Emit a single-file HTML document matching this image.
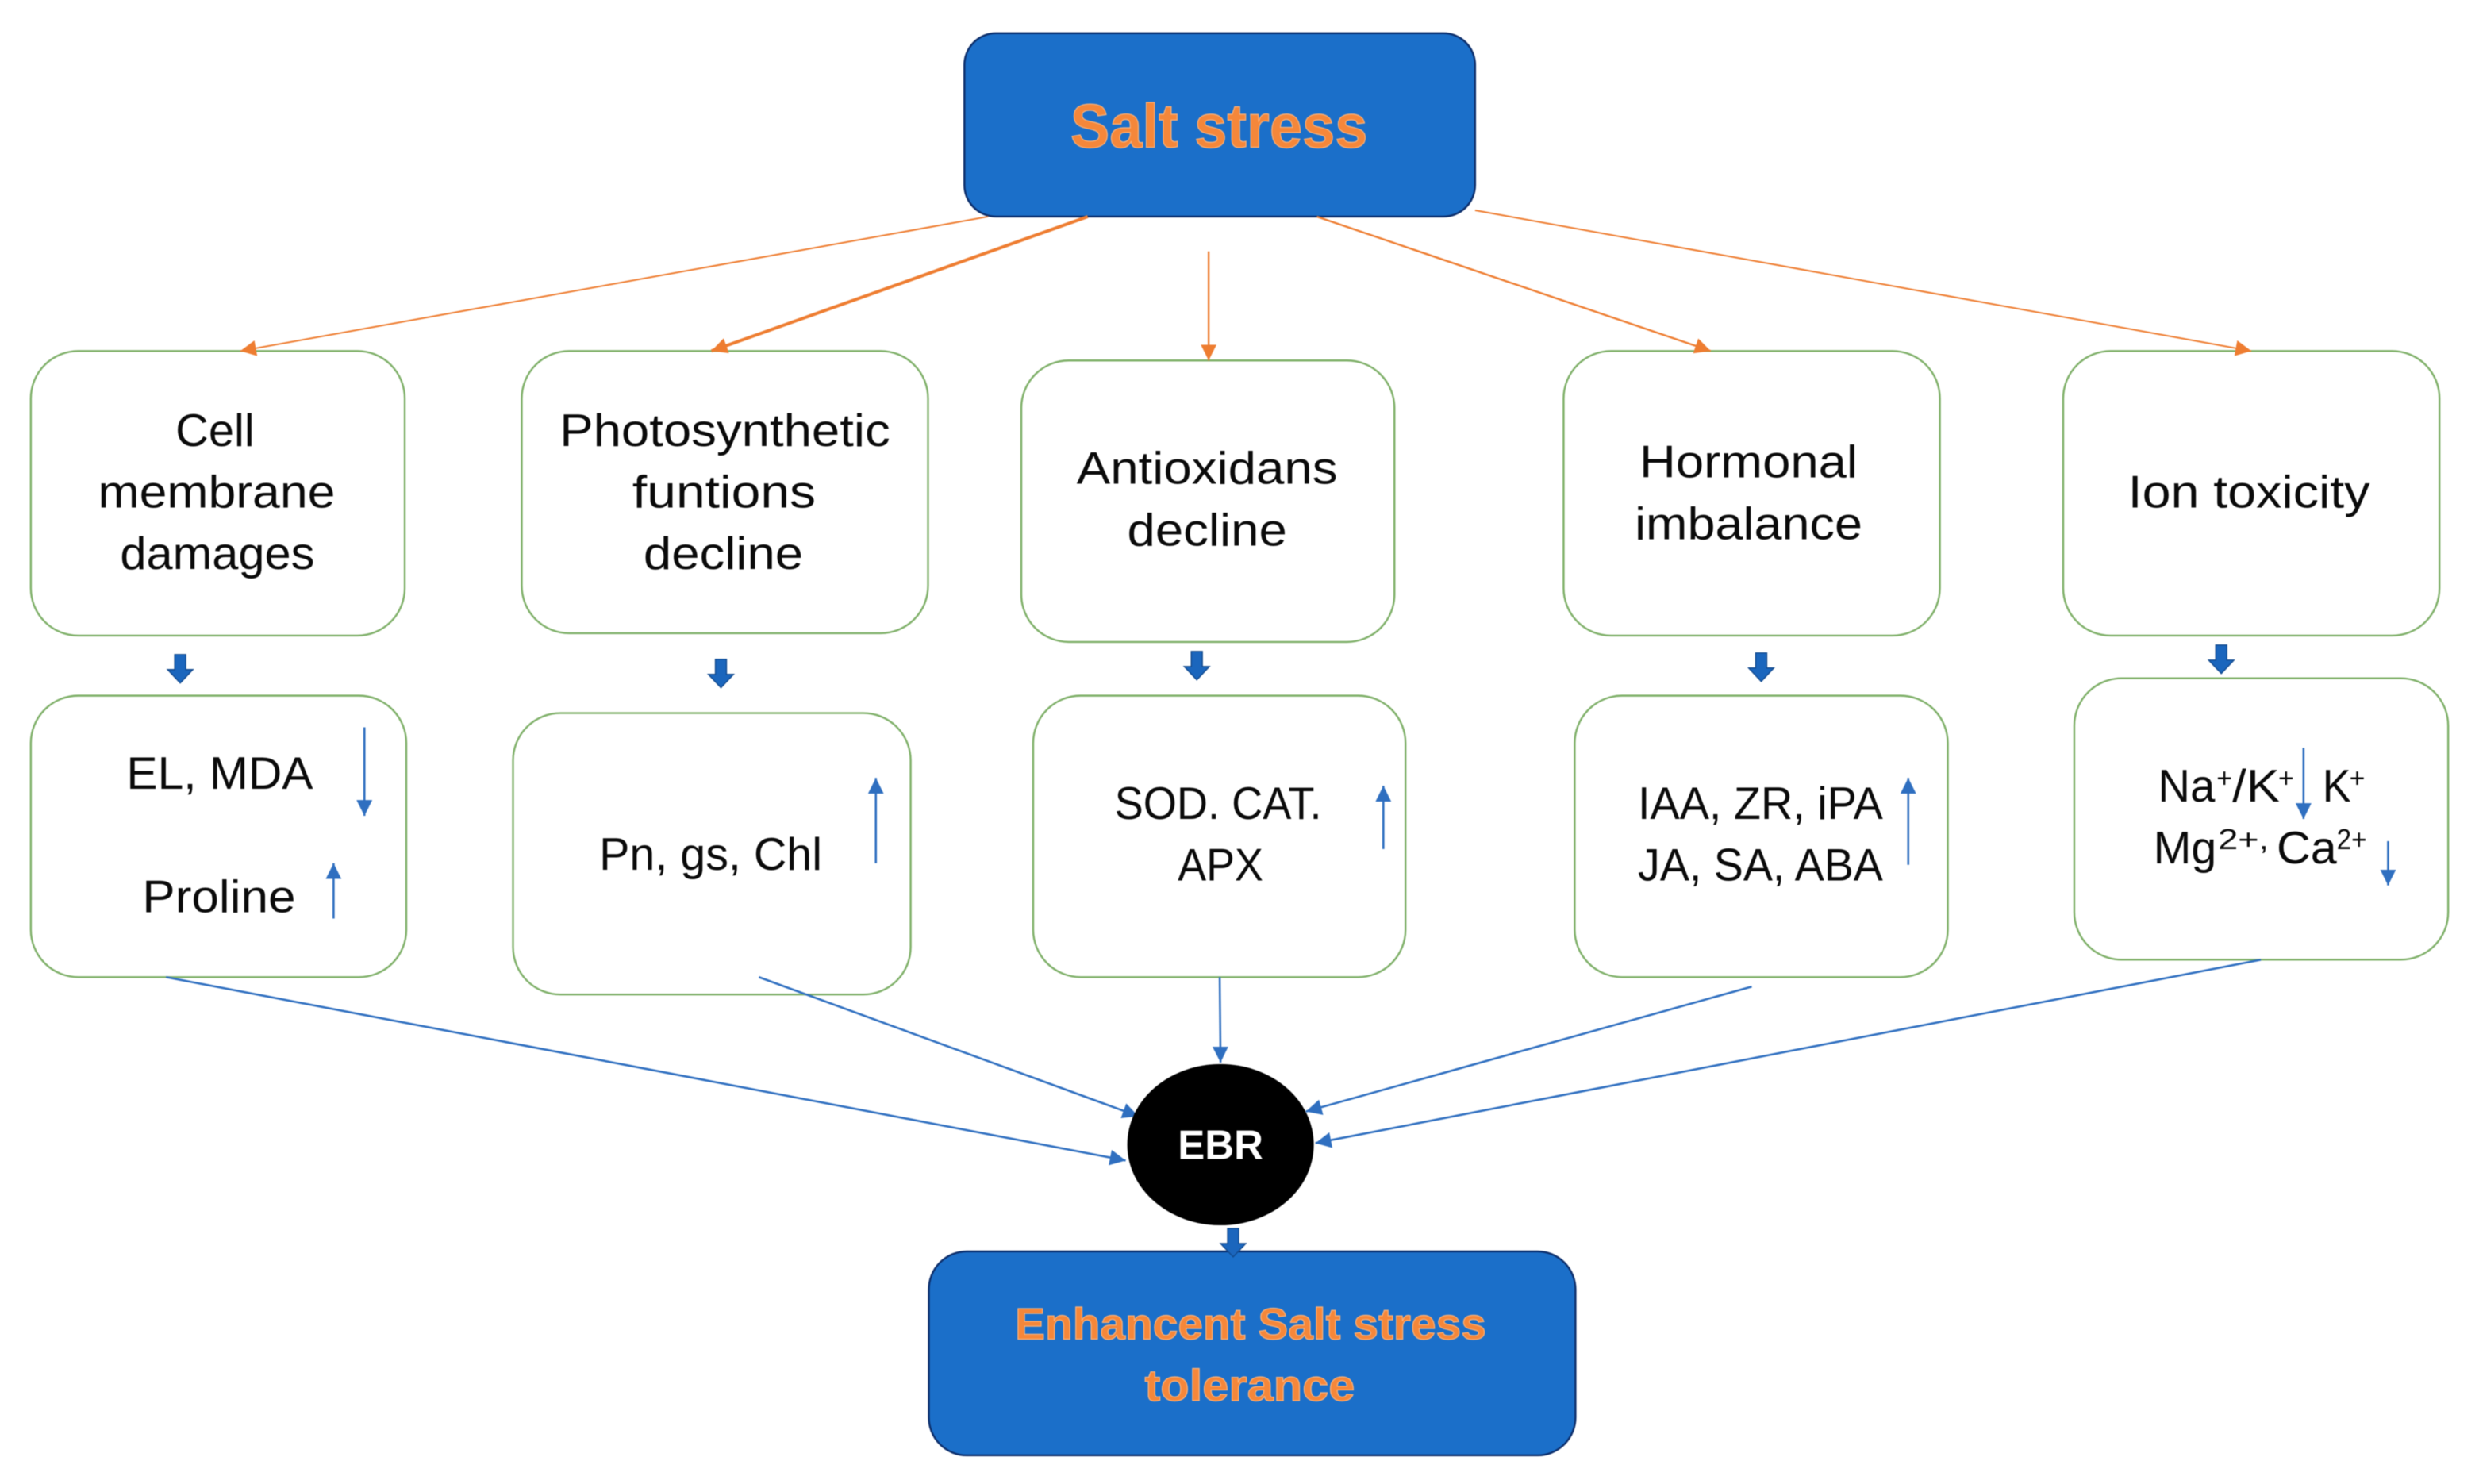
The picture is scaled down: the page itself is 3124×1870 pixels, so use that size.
<!DOCTYPE html>
<html><head><meta charset="utf-8"><title>Salt stress diagram</title>
<style>html,body{margin:0;padding:0;background:#fff}svg{display:block;filter:blur(.6px)}
text{font-family:"Liberation Sans",sans-serif;fill:#0a0a0a}
.t{font-size:29px}
.b{font-weight:bold;fill:#f5873a;stroke:#fbb27a;stroke-width:.6px}
</style></head><body>
<svg xmlns="http://www.w3.org/2000/svg" width="3124" height="1870" viewBox="0 0 1568 938.6" preserveAspectRatio="none">
<defs>
<marker id="o2" markerWidth="10" markerHeight="10" refX="10" refY="5" orient="auto" markerUnits="userSpaceOnUse" viewBox="0 0 10 10"><path d="M0 0L10 5L0 10Z" fill="#ee7d31"/></marker>
<marker id="u" markerWidth="10" markerHeight="10" refX="10" refY="5" orient="auto" markerUnits="userSpaceOnUse" viewBox="0 0 10 10"><path d="M0 0L10 5L0 10Z" fill="#2f6fc0"/></marker>
<path id="ba" d="M-3.5 0H3.5V9.5H8L0 18L-8 9.5H-3.5Z" fill="#1b66bd" stroke="#124a8f" stroke-width=".7"/>
</defs>
<rect width="1568" height="938.6" fill="#fff"/>
<g fill="none" stroke="#7fb069" stroke-width="1.2">
<rect x="19.5" y="222" width="236.500" height="180" rx="30"/>
<rect x="330" y="222" width="257" height="178.500" rx="30"/>
<rect x="646" y="228" width="236" height="178" rx="30"/>
<rect x="989" y="222" width="238" height="180" rx="30"/>
<rect x="1305" y="222" width="238" height="180" rx="30"/>
<rect x="19.500" y="440" width="237.500" height="178" rx="30"/>
<rect x="324.500" y="451" width="251.500" height="178" rx="30"/>
<rect x="653.500" y="440" width="235.500" height="178" rx="30"/>
<rect x="996" y="440" width="236" height="178" rx="30"/>
<rect x="1312" y="429" width="236.500" height="178" rx="30"/>
</g>
<rect x="610" y="21" width="323" height="116" rx="20" fill="#1b6fc9" stroke="#0d2f6c" stroke-width="1.200"/>
<rect x="587.500" y="791.500" width="409" height="129" rx="24" fill="#1b6fc9" stroke="#0d2f6c" stroke-width="1.200"/>
<g stroke="#ee7d31" fill="none">
<line x1="625" y1="137" x2="152" y2="222" stroke-width="1" marker-end="url(#o2)"/>
<line x1="688" y1="137" x2="450" y2="222" stroke-width="2" marker-end="url(#o2)"/>
<line x1="764.500" y1="159" x2="764.500" y2="228" stroke-width="1.200" marker-end="url(#o2)"/>
<line x1="833" y1="137" x2="1082" y2="222" stroke-width="1.200" marker-end="url(#o2)"/>
<line x1="933" y1="133" x2="1424" y2="222" stroke-width="1" marker-end="url(#o2)"/>
</g>
<g stroke="#2f6fc0" fill="none" stroke-width="1.300">
<line x1="105" y1="618" x2="712" y2="734" marker-end="url(#u)"/>
<line x1="480" y1="618" x2="720" y2="706" marker-end="url(#u)"/>
<line x1="771.500" y1="618" x2="772" y2="672" marker-end="url(#u)"/>
<line x1="1108" y1="624" x2="826" y2="703" marker-end="url(#u)"/>
<line x1="1430" y1="607" x2="832" y2="723" marker-end="url(#u)"/>
<line x1="230.500" y1="460" x2="230.500" y2="516" marker-end="url(#u)"/>
<line x1="211" y1="581" x2="211" y2="546" marker-end="url(#u)"/>
<line x1="554" y1="546" x2="554" y2="492" marker-end="url(#u)"/>
<line x1="875" y1="537" x2="875" y2="497" marker-end="url(#u)"/>
<line x1="1207" y1="547" x2="1207" y2="492" marker-end="url(#u)"/>
<line x1="1457" y1="473" x2="1457" y2="518" marker-end="url(#u)"/>
<line x1="1510.500" y1="532" x2="1510.500" y2="560" marker-end="url(#u)"/>
</g>
<use href="#ba" x="114" y="414"/>
<use href="#ba" x="456" y="417"/>
<use href="#ba" x="757" y="412"/>
<use href="#ba" x="1114" y="413"/>
<use href="#ba" x="1405" y="408"/>
<use href="#ba" x="780" y="777"/>
<ellipse cx="772" cy="724" rx="59" ry="51" fill="#000"/>
<text x="745" y="733" font-size="26" font-weight="bold" textLength="54" lengthAdjust="spacingAndGlyphs" style="fill:#fff">EBR</text>
<text class="b" x="677" y="93" font-size="39" textLength="188" lengthAdjust="spacingAndGlyphs">Salt stress</text>
<text class="b" x="642" y="847" font-size="28" textLength="298" lengthAdjust="spacingAndGlyphs">Enhancent Salt stress</text>
<text class="b" x="724" y="886" font-size="28" textLength="133" lengthAdjust="spacingAndGlyphs">tolerance</text>
<text class="t" x="111" y="282" textLength="50" lengthAdjust="spacingAndGlyphs">Cell</text>
<text class="t" x="62" y="321" textLength="150" lengthAdjust="spacingAndGlyphs">membrane</text>
<text class="t" x="76" y="360" textLength="123" lengthAdjust="spacingAndGlyphs">damages</text>
<text class="t" x="354" y="282" textLength="209" lengthAdjust="spacingAndGlyphs">Photosynthetic</text>
<text class="t" x="400" y="321" textLength="116" lengthAdjust="spacingAndGlyphs">funtions</text>
<text class="t" x="407" y="360" textLength="101" lengthAdjust="spacingAndGlyphs">decline</text>
<text class="t" x="681" y="306" textLength="165" lengthAdjust="spacingAndGlyphs">Antioxidans</text>
<text class="t" x="713" y="345" textLength="101" lengthAdjust="spacingAndGlyphs">decline</text>
<text class="t" x="1037" y="302" textLength="138" lengthAdjust="spacingAndGlyphs">Hormonal</text>
<text class="t" x="1034" y="341" textLength="144" lengthAdjust="spacingAndGlyphs">imbalance</text>
<text class="t" x="1346" y="321" textLength="153" lengthAdjust="spacingAndGlyphs">Ion toxicity</text>
<text class="t" x="80" y="499" textLength="118" lengthAdjust="spacingAndGlyphs">EL, MDA</text>
<text class="t" x="90" y="577" textLength="97" lengthAdjust="spacingAndGlyphs">Proline</text>
<text class="t" x="379" y="550" textLength="141" lengthAdjust="spacingAndGlyphs">Pn, gs, Chl</text>
<text class="t" x="705" y="518" textLength="131" lengthAdjust="spacingAndGlyphs">SOD. CAT.</text>
<text class="t" x="745" y="557" textLength="54" lengthAdjust="spacingAndGlyphs">APX</text>
<text class="t" x="1036" y="518" textLength="155" lengthAdjust="spacingAndGlyphs">IAA, ZR, iPA</text>
<text class="t" x="1036" y="557" textLength="155" lengthAdjust="spacingAndGlyphs">JA, SA, ABA</text>
<text class="t" x="1365" y="507" textLength="36" lengthAdjust="spacingAndGlyphs">Na</text>
<text x="1402" y="498" font-size="17">+</text>
<text class="t" x="1412" y="507" textLength="30" lengthAdjust="spacingAndGlyphs">/K</text>
<text x="1441" y="498" font-size="17">+</text>
<text class="t" x="1469" y="507" textLength="18" lengthAdjust="spacingAndGlyphs">K</text>
<text x="1486" y="498" font-size="17">+</text>
<text class="t" x="1362" y="546" textLength="40" lengthAdjust="spacingAndGlyphs">Mg</text>
<text x="1403" y="537" font-size="18" textLength="32" lengthAdjust="spacingAndGlyphs">2+,</text>
<text class="t" x="1440" y="546" textLength="38" lengthAdjust="spacingAndGlyphs">Ca</text>
<text x="1478" y="537" font-size="18" textLength="19" lengthAdjust="spacingAndGlyphs">2+</text>
</svg>
</body></html>
